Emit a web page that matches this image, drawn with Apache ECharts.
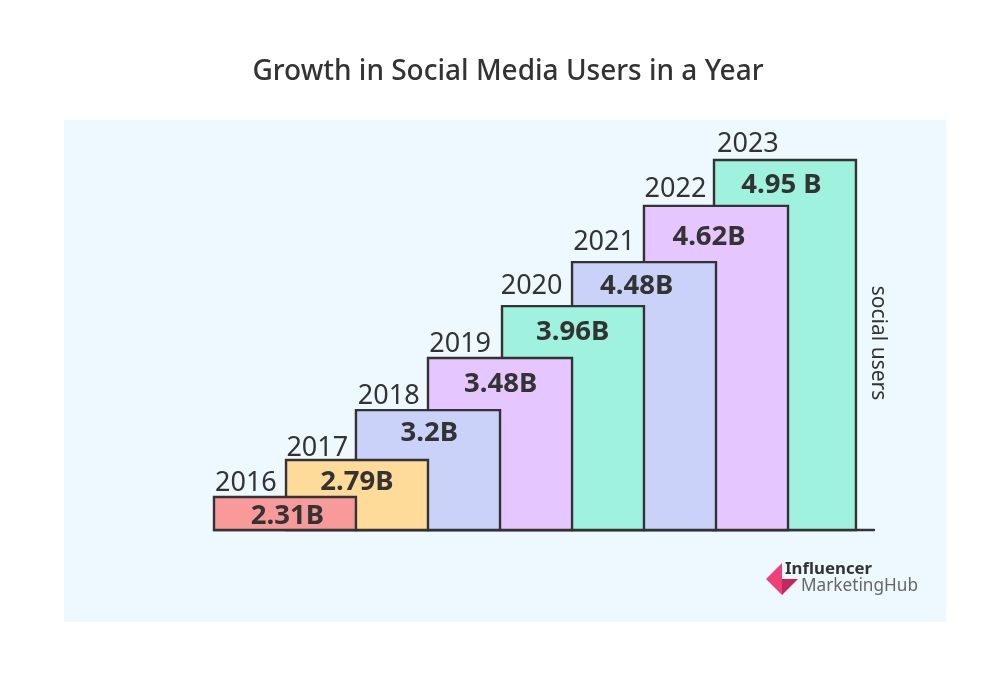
<!DOCTYPE html>
<html lang="en">
<head>
    <meta charset="UTF-8">
    <title>Growth in Social Media Users in a Year</title>
    <script src="https://cdn.jsdelivr.net/npm/echarts@6/dist/echarts.min.js"></script>
    <style>
        html, body { margin: 0; padding: 0; background: #fff; }
        #chart { width: 1008px; height: 688px; }
    </style>
</head>
<body>
<div id="chart"></div>
<script>
    var years = [2016, 2017, 2018, 2019, 2020, 2021, 2022, 2023];
    var userLabels = ["2.31B", "2.79B", "3.2B", "3.48B", "3.96B", "4.48B", "4.62B", "4.95 B"];
    // the steps in the picture are not to scale with the labels, so read on a 0-100 scale
    var stepHeights = [8.9, 18.9, 32.4, 46.5, 60.5, 72.4, 87.6, 100];
    var barColors = ["#f89a9a", "#fedb98", "#cbd2fa", "#e6c6fe", "#9ff2dd", "#cbd2fa", "#e6c6fe", "#9ff2dd"];

    // hand nudges, the steps are not evenly spaced in the picture
    var leftNudge = [0, 0.6, -0.9, -0.3, 2.3, 0.9, 1.4, 0];
    var rightNudge = [-0.9, -0.3, 0.3, 0.9, 1.4, 2, 2.6, -0.9];
    var yearDx = [0, 0, 0, 0, 0, 1, 1, 2];
    var yearDy = [2, 4, 2, 2, -4, -4, -1, 0];
    var labelDx = [2, 0, 1, 1, 1.5, -6, -5, -4];
    var labelDy = [19, 22, 23, 26, 26, 24, 31, 25];

    var ink = "#333333";
    var fontName = '"Noto Sans", sans-serif';

    var chart = echarts.init(document.getElementById("chart"), null, {renderer: "canvas"});

    function renderStep(params, api) {
        var i = params.dataIndex;
        var topLeft = api.coord([api.value(0), api.value(1)]);
        var base = api.coord([api.value(0), 0]);
        var barWidth = api.size([2, 0])[0];
        var x0 = topLeft[0] + leftNudge[i];
        var x1 = topLeft[0] + barWidth + rightNudge[i];
        return {
            type: "group",
            children: [
                {
                    type: "rect",
                    z2: 20 - i,
                    shape: {x: x0, y: topLeft[1], width: x1 - x0, height: base[1] - topLeft[1]},
                    style: {fill: barColors[i], stroke: ink, lineWidth: 2.4}
                },
                {
                    type: "text",
                    z2: 40,
                    style: {
                        x: topLeft[0] + 1 + yearDx[i], y: topLeft[1] - 2 + yearDy[i],
                        text: String(years[i]),
                        fill: ink,
                        font: '27px ' + fontName,
                        align: "left", verticalAlign: "bottom"
                    }
                },
                {
                    type: "text",
                    z2: 40,
                    style: {
                        x: topLeft[0] + barWidth / 2 + labelDx[i], y: topLeft[1] + labelDy[i],
                        text: userLabels[i],
                        fill: ink,
                        font: 'bold 27.5px ' + fontName,
                        align: "center", verticalAlign: "middle"
                    }
                }
            ]
        };
    }

    var option = {
        animation: false,
        backgroundColor: "#ffffff",
        title: {
            text: "Growth in Social Media Users in a Year",
            left: 503, top: 53, textAlign: "center",
            textStyle: {color: ink, fontFamily: fontName, fontSize: 28, fontWeight: 500}
        },
        grid: {left: 214, top: 160, width: 660, height: 370},
        xAxis: {
            type: "value",
            min: 2016,
            max: 2025.24,
            splitLine: {show: false},
            axisTick: {show: false},
            axisLabel: {show: false},
            axisLine: {show: true, onZero: false, lineStyle: {color: ink, width: 2.4}}
        },
        yAxis: {
            type: "value",
            position: "right",
            min: 0,
            max: 100,
            name: "social users",
            nameLocation: "middle",
            nameRotate: -90,
            nameGap: -7,
            nameTextStyle: {color: ink, fontFamily: fontName, fontSize: 21, padding: [0, 4, 0, 0]},
            splitLine: {show: false},
            axisTick: {show: false},
            axisLabel: {show: false},
            axisLine: {show: false}
        },
        series: [{
            type: "custom",
            renderItem: renderStep,
            clip: false,
            data: years.map(function (y, i) { return [y, stepHeights[i]]; })
        }],
        graphic: [
            {type: "rect", z: -10, silent: true, shape: {x: 64, y: 120, width: 882, height: 502}, style: {fill: "#eef9ff"}},
            {type: "polygon", z: 5, silent: true, shape: {points: [[782, 563], [766, 579], [782, 595]]}, style: {fill: "#f04078"}},
            {type: "polygon", z: 5, silent: true, shape: {points: [[782, 579], [798, 579], [782, 595]]}, style: {fill: "#c4275f"}},
            {type: "text", z: 5, silent: true, style: {x: 785, y: 569, text: "Influencer", fill: ink, font: 'bold 16.8px ' + fontName, verticalAlign: "middle"}},
            {type: "text", z: 5, silent: true, style: {x: 801, y: 586, text: "MarketingHub", fill: "#666666", font: '17.2px ' + fontName, verticalAlign: "middle"}}
        ]
    };

    chart.setOption(option);
</script>
</body>
</html>
